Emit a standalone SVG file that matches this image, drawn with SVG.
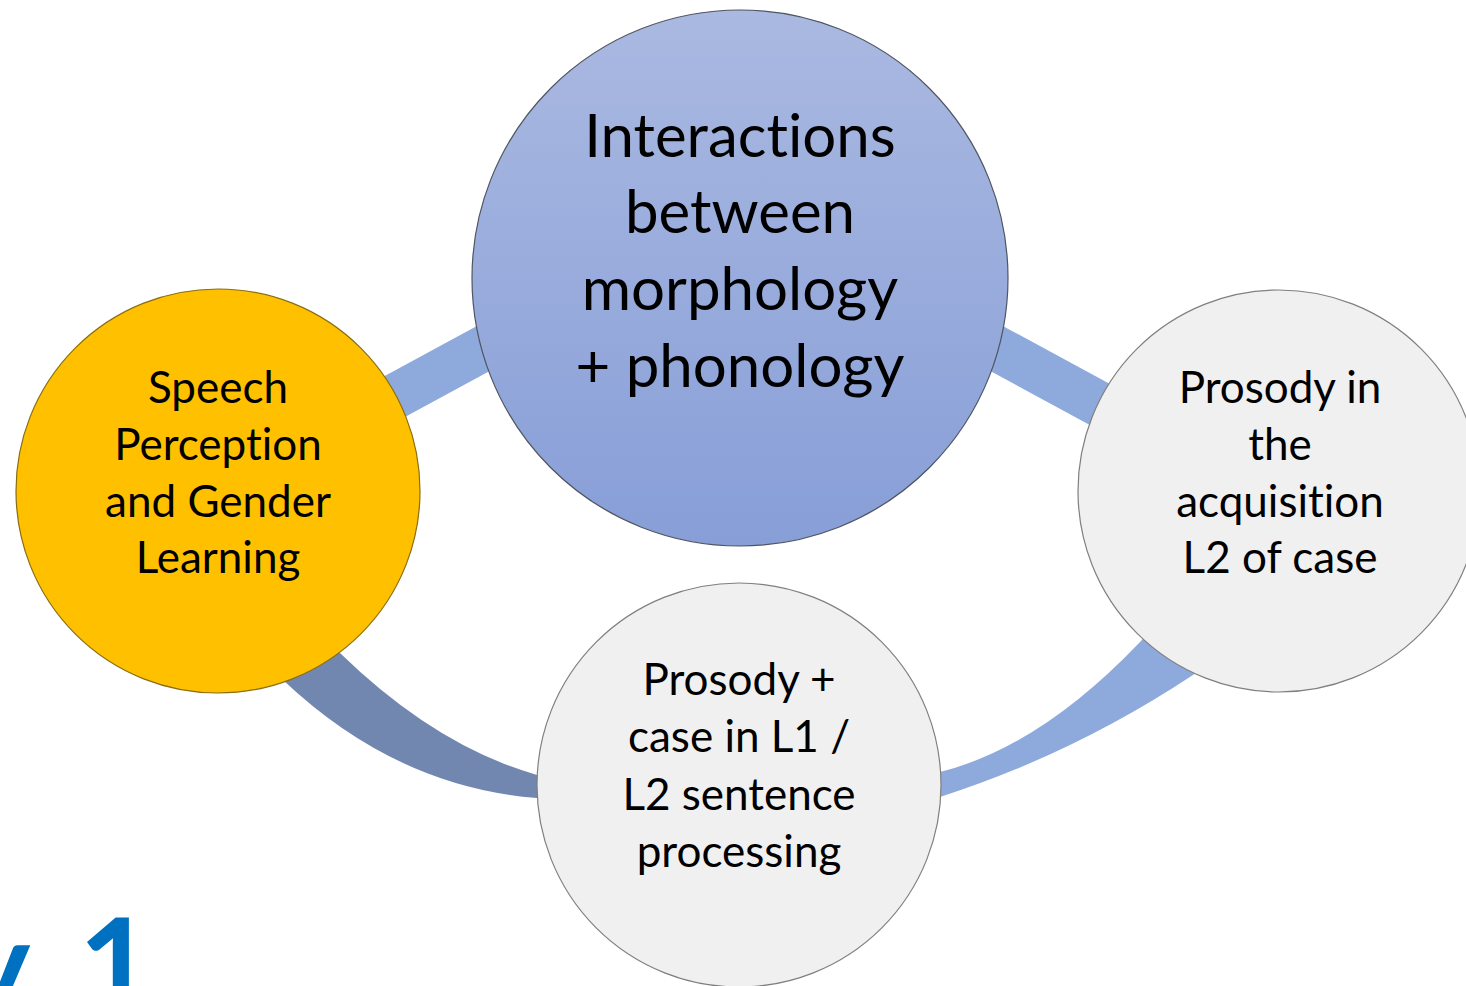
<svg xmlns="http://www.w3.org/2000/svg" width="1466" height="986" viewBox="0 0 1466 986">
<style>
.t{font-family:Lato,"Noto Sans","Liberation Sans",sans-serif;fill:#000;text-anchor:middle;font-variant-ligatures:none;font-feature-settings:"liga" 0}
.big{font-size:60px}
.sm{font-size:44px}
.band{fill:#8EAADC}
.gray{fill:#F0F0F0;stroke:#7F7F7F;stroke-width:1.2}
</style>
<defs>
<linearGradient id="gb" x1="0" y1="0" x2="0" y2="1">
<stop offset="0" stop-color="#AAB9E1"/>
<stop offset="1" stop-color="#879ED7"/>
</linearGradient>
</defs>
<g id="connectors">
<path class="band" d="M300,422 L560,281 L582,321 L322,462 Z"/>
<path class="band" d="M920,281 L1180,422 L1158,462 L898,321 Z"/>
<path fill="#7287B0" d="M305,619 L340,653 Q435.5,746 537,775 L565,782 L565,805 L537,798 Q396,787 283,680 L250,650 Z"/>
<path class="band" d="M915,777 L940,772 Q1040,747 1140,642 L1170,610 L1230,650 L1193,675 Q1073.5,754 940,797 L915,802 Z"/>
</g>
<g id="node-center">
<circle cx="740" cy="278" r="268" fill="url(#gb)" stroke="#4F5560" stroke-width="1.2"/>
<text class="t big" x="740" y="157">Interactions</text>
<text class="t big" x="740" y="233">between</text>
<text class="t big" x="740" y="310">morphology</text>
<text class="t big" x="740" y="387">+ phonology</text>
</g>
<g id="node-left">
<circle cx="218" cy="491" r="202" fill="#FFC000" stroke="#8A6D10" stroke-width="1.2"/>
<text class="t sm" x="218" y="403">Speech</text>
<text class="t sm" x="218" y="460">Perception</text>
<text class="t sm" x="218" y="517">and Gender</text>
<text class="t sm" x="218" y="573">Learning</text>
</g>
<g id="node-right">
<circle cx="1279" cy="491" r="201" class="gray"/>
<text class="t sm" x="1280" y="403">Prosody in</text>
<text class="t sm" x="1280" y="460">the</text>
<text class="t sm" x="1280" y="517">acquisition</text>
<text class="t sm" x="1280" y="573">L2 of case</text>
</g>
<g id="node-bottom">
<circle cx="739" cy="785" r="202" class="gray"/>
<text class="t sm" x="739" y="695">Prosody +</text>
<text class="t sm" x="739" y="752">case in L1 /</text>
<text class="t sm" x="739" y="810">L2 sentence</text>
<text class="t sm" x="739" y="867">processing</text>
</g>
<text x="154" y="1012" font-family="Lato,'Liberation Sans',sans-serif" font-weight="bold" font-size="130" fill="#0070C0" text-anchor="end">y<tspan dx="20"> 1</tspan></text>
</svg>
